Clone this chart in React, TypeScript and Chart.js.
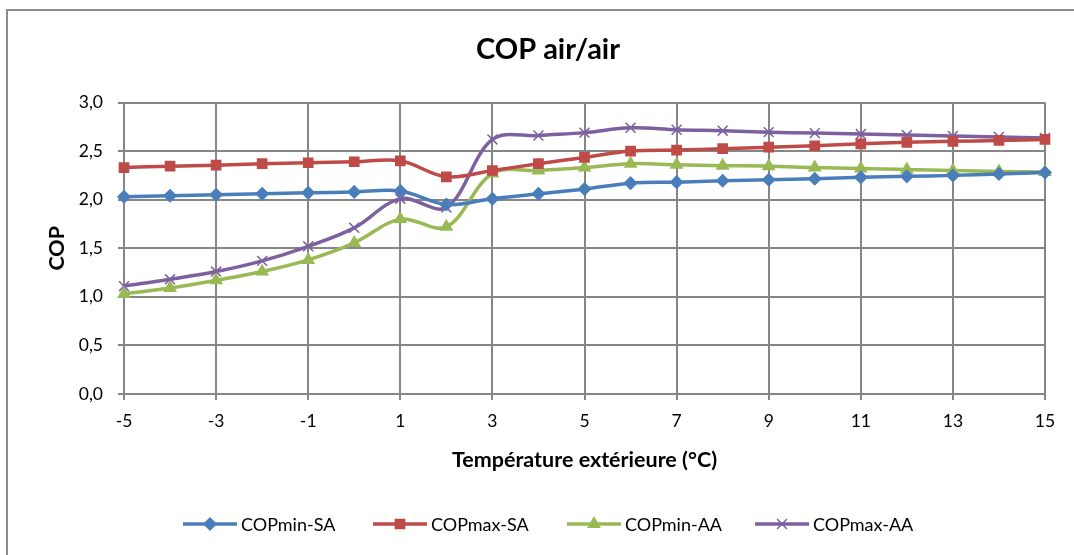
import React, { useEffect, useRef } from 'react';
import { Chart, registerables } from 'chart.js';
import { drawPoint } from 'chart.js/helpers';

Chart.register(...registerables);

const categories = ['-5', '-4', '-3', '-2', '-1', '0', '1', '2', '3', '4', '5', '6', '7', '8', '9', '10', '11', '12', '13', '14', '15'];
const copMinSA = [2.03, 2.04, 2.05, 2.06, 2.07, 2.08, 2.09, 1.95, 2.01, 2.06, 2.11, 2.17, 2.18, 2.195, 2.205, 2.215, 2.23, 2.24, 2.25, 2.265, 2.28];
const copMaxSA = [2.33, 2.345, 2.355, 2.37, 2.38, 2.39, 2.40, 2.235, 2.30, 2.37, 2.435, 2.50, 2.51, 2.525, 2.54, 2.555, 2.575, 2.59, 2.60, 2.61, 2.62];
const copMinAA = [1.03, 1.09, 1.17, 1.26, 1.38, 1.555, 1.80, 1.72, 2.27, 2.30, 2.33, 2.37, 2.36, 2.35, 2.345, 2.33, 2.32, 2.31, 2.30, 2.29, 2.285];
const copMaxAA = [1.11, 1.18, 1.26, 1.37, 1.52, 1.71, 2.01, 1.92, 2.62, 2.66, 2.69, 2.74, 2.72, 2.71, 2.695, 2.685, 2.675, 2.665, 2.655, 2.645, 2.635];
const seriesNames = ['COPmin-SA', 'COPmax-SA', 'COPmin-AA', 'COPmax-AA'];
const yTicks = [0, 0.5, 1, 1.5, 2, 2.5, 3];

const FONT = 'Lato, "Open Sans", sans-serif';
const GRID = '#868686';

const styles = [
  { color: '#4A7EBB', point: 'rectRot', radius: 6 },
  { color: '#BE4B48', point: 'rect', radius: 6.5 },
  { color: '#98B954', point: 'triangle', radius: 6.5 },
  { color: '#7D60A0', point: 'crossRot', radius: 7 },
];

const legendStarts = [183, 373, 567, 755];

const decorPlugin = {
  id: 'decor',
  afterDraw(chart: any) {
    const ctx = chart.ctx;
    ctx.save();
    ctx.fillStyle = '#000';
    ctx.font = `bold 29px ${FONT}`;
    ctx.textAlign = 'center';
    ctx.textBaseline = 'middle';
    ctx.fillText('COP air/air', 548, 50);

    const y = 524;
    ctx.font = `18px ${FONT}`;
    ctx.textAlign = 'left';
    chart.data.datasets.forEach((ds: any, i: number) => {
      const x0 = legendStarts[i];
      const x1 = x0 + 54;
      ctx.strokeStyle = ds.borderColor;
      ctx.lineWidth = 3.5;
      ctx.beginPath();
      ctx.moveTo(x0, y);
      ctx.lineTo(x1, y);
      ctx.stroke();
      ctx.fillStyle = ds.borderColor;
      ctx.strokeStyle = ds.borderColor;
      ctx.lineWidth = 1.5;
      drawPoint(ctx, { pointStyle: ds.pointStyle, radius: ds.pointRadius, rotation: 0, borderWidth: 1.5 }, (x0 + x1) / 2, y);
      ctx.fillStyle = '#000';
      ctx.textBaseline = 'middle';
      ctx.fillText(ds.label, x1 + 4, y + 1);
    });
    ctx.restore();
  },
};

export default function App() {
  const ref = useRef<HTMLCanvasElement | null>(null);

  useEffect(() => {
    if (!ref.current) return;
    const data = [copMinSA, copMaxSA, copMinAA, copMaxAA];
    const chart = new Chart(ref.current, {
      type: 'line',
      data: {
        labels: categories,
        datasets: data.map((d, i) => ({
          label: seriesNames[i],
          data: d,
          borderColor: styles[i].color,
          backgroundColor: styles[i].color,
          pointBackgroundColor: styles[i].color,
          pointBorderColor: styles[i].color,
          pointStyle: styles[i].point as any,
          pointRadius: styles[i].radius,
          pointBorderWidth: 1.5,
          borderWidth: 3.5,
          tension: 0.35,
          fill: false,
        })),
      },
      options: {
        animation: false,
        responsive: true,
        maintainAspectRatio: false,
        layout: { padding: { top: 102.5, left: 20, right: 29, bottom: 75 } },
        plugins: {
          legend: { display: false },
          title: { display: false },
          tooltip: { enabled: false },
        },
        scales: {
          x: {
            type: 'category',
            offset: false,
            afterFit: (s: any) => { s.height = 86; },
            grid: {
              color: (c: any) => (c.index % 2 === 0 ? GRID : 'rgba(0,0,0,0)'),
              lineWidth: 2,
              tickLength: 6,
            },
            border: { color: GRID, width: 2 },
            ticks: {
              autoSkip: false,
              maxRotation: 0,
              padding: 11,
              color: '#000',
              font: { family: FONT, size: 17.5 },
              callback: (_v: any, i: number) => (i % 2 === 0 ? categories[i] : ''),
            },
            title: {
              display: true,
              text: 'Température extérieure (°C)',
              color: '#000',
              font: { family: FONT, size: 21.5, weight: 'bold' },
              padding: { top: 0, bottom: 7 },
            },
          },
          y: {
            min: 0,
            max: 3,
            afterFit: (s: any) => { s.width = 104; },
            afterBuildTicks: (s: any) => { s.ticks = yTicks.map((v) => ({ value: v })); },
            grid: { color: GRID, lineWidth: 2, tickLength: 6 },
            border: { color: GRID, width: 2 },
            ticks: {
              padding: 15,
              color: '#000',
              font: { family: FONT, size: 17.5 },
              callback: (v: any) => Number(v).toFixed(1).replace('.', ','),
            },
            title: {
              display: true,
              text: 'COP',
              color: '#000',
              font: { family: FONT, size: 21.5, weight: 'bold' },
              padding: { top: 24, bottom: 0 },
            },
          },
        },
      },
      plugins: [decorPlugin],
    });
    return () => chart.destroy();
  }, []);

  return (
    <div style={{ position: 'fixed', left: 0, top: 0, width: 1074, height: 555, overflow: 'hidden', background: '#fff' }}>
      <div style={{ position: 'absolute', left: 6, top: 9, width: 1200, height: 700, border: '2px solid #8c8c8c', boxSizing: 'border-box' }} />
      <div style={{ position: 'absolute', left: 0, top: 0, width: 1074, height: 555 }}>
        <canvas ref={ref} />
      </div>
    </div>
  );
}
